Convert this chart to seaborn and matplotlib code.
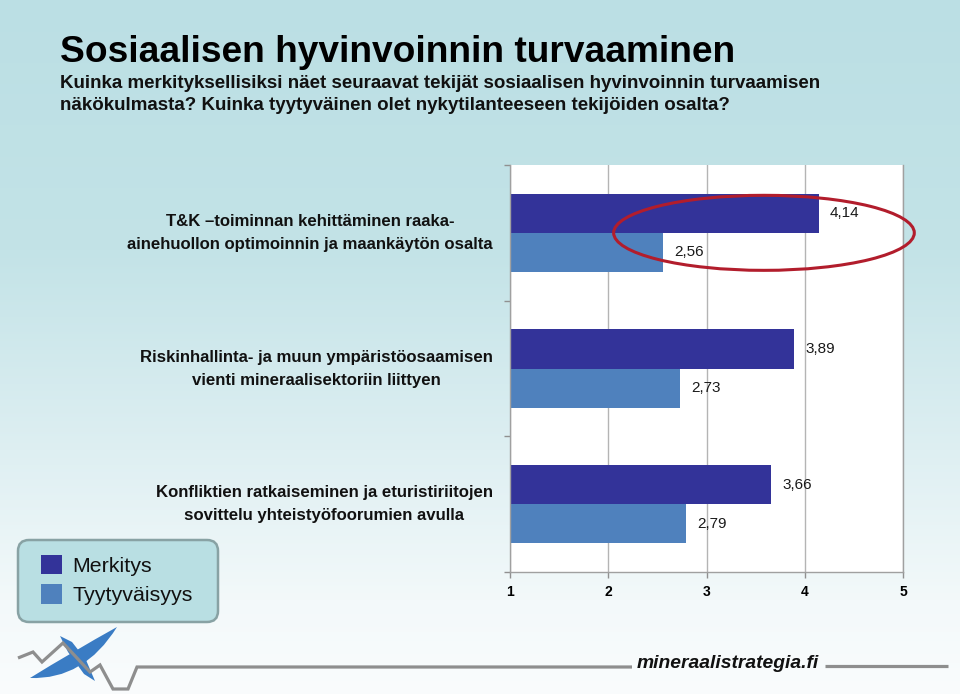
import matplotlib
matplotlib.use('Agg')
import matplotlib.pyplot as plt
import matplotlib.transforms as mtransforms
import seaborn as sns
import numpy as np
import pandas as pd
from matplotlib.patches import Ellipse, FancyBboxPatch, Polygon, PathPatch
from matplotlib.path import Path

# ---------------- data ----------------
categories = [
    "T&K –toiminnan kehittäminen raaka-\nainehuollon optimoinnin ja maankäytön osalta",
    "Riskinhallinta- ja muun ympäristöosaamisen\nvienti mineraalisektoriin liittyen",
    "Konfliktien ratkaiseminen ja eturistiriitojen\nsovittelu yhteistyöfoorumien avulla",
]
series_names = ["Merkitys", "Tyytyväisyys"]
merkitys = [4.14, 3.89, 3.66]
tyytyvaisyys = [2.56, 2.73, 2.79]
xticks = [1, 2, 3, 4, 5]

title = "Sosiaalisen hyvinvoinnin turvaaminen"
subtitle_lines = [
    "Kuinka merkityksellisiksi näet seuraavat tekijät sosiaalisen hyvinvoinnin turvaamisen",
    "näkökulmasta? Kuinka tyytyväinen olet nykytilanteeseen tekijöiden osalta?",
]
site = "mineraalistrategia.fi"

colors = ["#333399", "#4f81bd"]

plt.rcParams['font.family'] = ['Liberation Sans', 'DejaVu Sans']

W, H = 960, 694
fig = plt.figure(figsize=(W / 100, H / 100), dpi=100)

# ---------------- background ----------------
bg = fig.add_axes([0, 0, 1, 1], zorder=-10)
stops_y = [0, 250, 450, 600, 694]
stops_c = np.array([[187, 223, 228], [195, 227, 231], [222, 239, 242],
                    [243, 249, 250], [250, 252, 253]]) / 255.0
yy = np.arange(H)
grad = np.stack([np.interp(yy, stops_y, stops_c[:, k]) for k in range(3)], axis=-1)
bg.imshow(grad[:, None, :], aspect='auto', extent=[0, W, H, 0], interpolation='bilinear')
bg.set_xlim(0, W)
bg.set_ylim(H, 0)
bg.axis('off')

# ---------------- chart ----------------
ax = fig.add_axes([510 / W, 1 - 572 / H, (903 - 510) / W, (572 - 165) / H])
df = pd.DataFrame({
    'Tekijä': categories + categories,
    'Arvo': merkitys + tyytyvaisyys,
    'Sarja': [series_names[0]] * len(categories) + [series_names[1]] * len(categories),
})
sns.barplot(data=df, x='Arvo', y='Tekijä', hue='Sarja', hue_order=series_names,
            order=categories, palette=colors, orient='h', width=0.575, saturation=1,
            edgecolor='none', linewidth=0, errorbar=None, ax=ax)

handles, labels = ax.get_legend_handles_labels()
if ax.get_legend() is not None:
    ax.get_legend().remove()

for cont in ax.containers:
    ax.bar_label(cont, labels=[f"{v:.2f}".replace('.', ',') for v in cont.datavalues],
                 padding=8, fontsize=11, color='#1a1a1a')

ax.set_xlim(1, 5)
ax.set_ylim(2.5, -0.5)
ax.set_facecolor('white')
ax.spines['top'].set_visible(False)
for s in ['left', 'bottom', 'right']:
    ax.spines[s].set_color('#a0a0a0')
    ax.spines[s].set_linewidth(1)
ax.grid(axis='x', color='#b4b4b4', lw=1)
ax.grid(axis='y', visible=False)
ax.set_axisbelow(True)
ax.set_xticks(xticks)
ax.set_xticklabels([str(t) for t in xticks], fontweight='bold', fontsize=10)
ax.tick_params(axis='x', length=4, width=1, color='#909090', pad=5)
ax.tick_params(axis='y', which='major', length=0, labelleft=False)
ax.set_yticks([-0.5, 0.5, 1.5, 2.5], minor=True)
ax.tick_params(axis='y', which='minor', length=4, width=1, color='#909090')
ax.set_xlabel('')
ax.set_ylabel('')

# category labels: block right-aligned next to the axis, lines centred
lab_trans = mtransforms.blended_transform_factory(ax.transAxes, ax.transData) + \
    mtransforms.ScaledTranslation(0, -16 / 100, fig.dpi_scale_trans)
for i, cat in enumerate(categories):
    ax.text(-17 / 393, i, cat, transform=lab_trans, ha='right', va='baseline',
            multialignment='center', linespacing=1.64, fontsize=12.1,
            fontweight='bold', color='#111111', clip_on=False)

# highlight ellipse (annotation)
ax.add_patch(Ellipse((3.585, 0.0), width=3.06, height=0.553, fill=False,
                     edgecolor='#b21d2c', lw=2.2, clip_on=False, zorder=5))

# ---------------- legend ----------------
bg.add_patch(FancyBboxPatch((18, 540), 200, 82,
                            boxstyle='round,pad=0,rounding_size=11',
                            facecolor='#b9dfe3', edgecolor='#88a2a4', lw=1.8))
fig.legend(handles, labels, loc='upper left', bbox_to_anchor=(41 / W, 1 - 555 / H),
           frameon=False, fontsize=15.4, handlelength=1.0, handleheight=1.0,
           handletextpad=0.47, labelspacing=0.4, borderpad=0, borderaxespad=0,
           labelcolor='#111111')

# ---------------- titles ----------------
t_title = bg.text(60, 62, title, fontsize=30, fontweight='bold',
                  ha='left', va='baseline', color='black')
t_sub1 = bg.text(60, 88, subtitle_lines[0], fontsize=12, fontweight='bold',
                 ha='left', va='baseline', color='#111111')
t_sub2 = bg.text(60, 110, subtitle_lines[1], fontsize=12, fontweight='bold',
                 ha='left', va='baseline', color='#111111')

# ---------------- footer logo ----------------
gray = '#8e8e8e'
bg.plot([18, 33, 42, 63, 90, 100, 113, 128, 137, 632],
        [658, 652, 662, 643, 672, 665, 689, 689, 667, 667],
        color=gray, lw=2.3, solid_joinstyle='miter', solid_capstyle='butt')
bg.plot([825, 948], [666, 666], color=gray, lw=2.3, solid_capstyle='butt')
blue = '#3a7cc4'
crescent = Path([(30, 678), (84, 680), (117, 627), (72, 652), (30, 678), (30, 678)],
                [Path.MOVETO, Path.CURVE3, Path.CURVE3, Path.CURVE3, Path.CURVE3, Path.CLOSEPOLY])
bg.add_patch(PathPatch(crescent, facecolor=blue, edgecolor='none'))
bg.add_patch(Polygon([(60, 636), (72, 642), (86, 660), (95, 681), (84, 674), (68, 652)],
                     closed=True, facecolor=blue, edgecolor='none'))
t_site = bg.text(637, 663, site, fontsize=12, fontweight='bold', fontstyle='italic',
                 ha='left', va='center', color='#111111')

# fit text widths to the reference
fig.canvas.draw()
r = fig.canvas.get_renderer()


def fit(t, target):
    bb = t.get_window_extent(r)
    t.set_fontsize(t.get_fontsize() * target / bb.width)


fit(t_title, 675)
fit(t_sub1, 757)
t_sub2.set_fontsize(t_sub1.get_fontsize())
fit(t_site, 181)

fig.savefig('out.png', dpi=100)
